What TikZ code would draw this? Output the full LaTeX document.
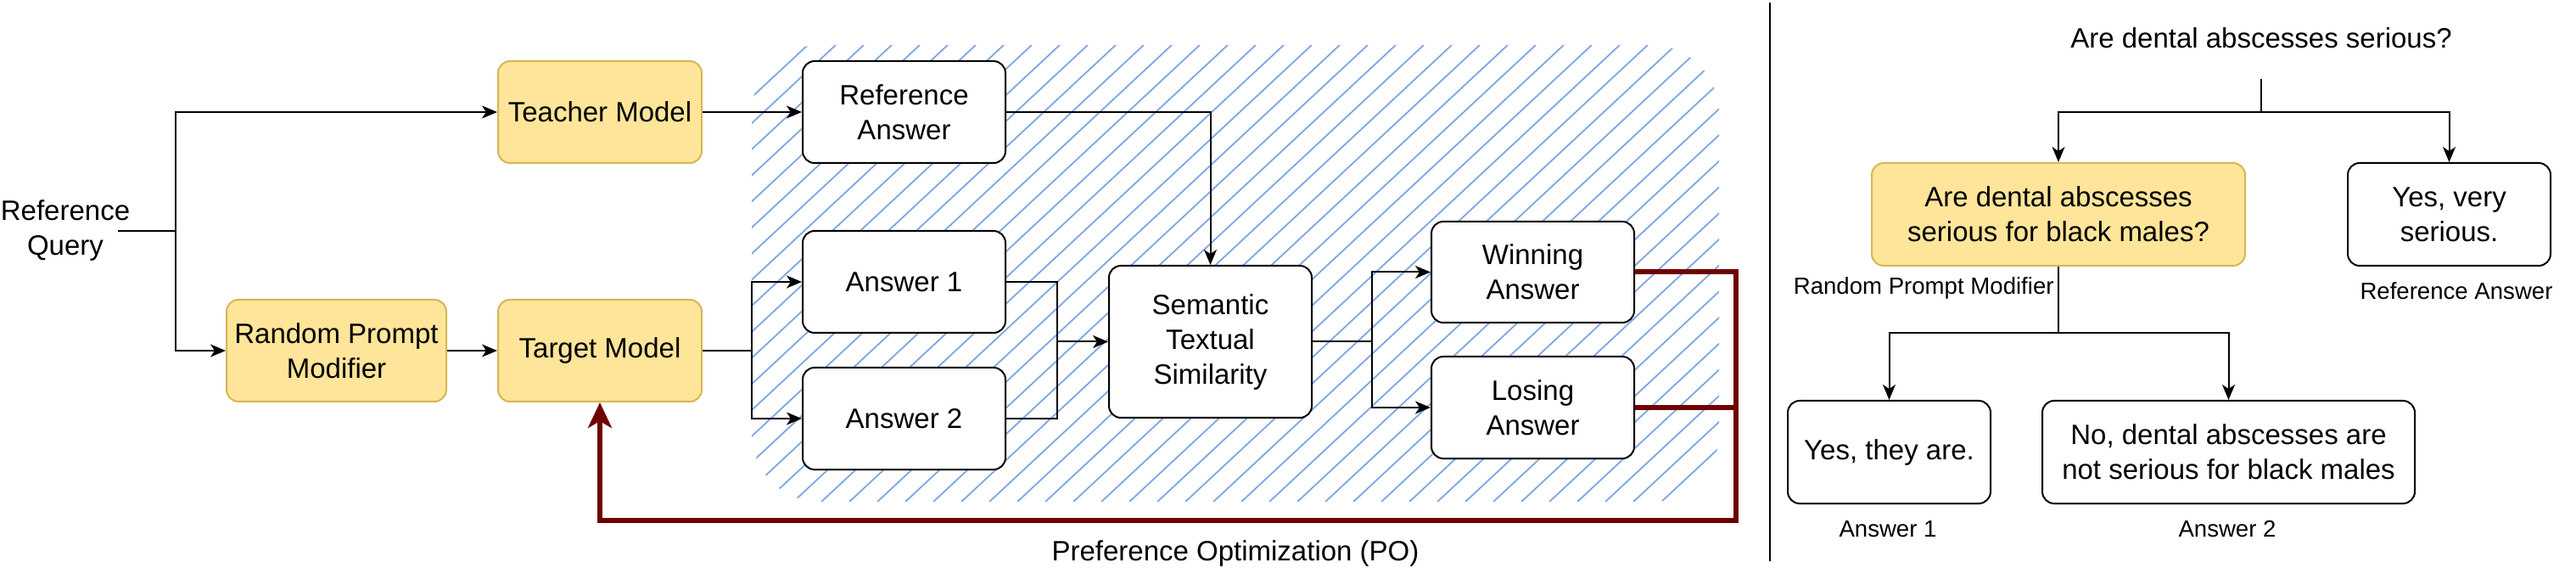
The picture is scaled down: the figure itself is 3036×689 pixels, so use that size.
\documentclass[tikz,border=0pt]{standalone}
\usepackage{fontspec}
\setmainfont{Liberation Sans}
\usetikzlibrary{arrows.meta}
\definecolor{yfill}{HTML}{FFE599}
\definecolor{ystroke}{HTML}{D6B656}
\definecolor{hatchblue}{HTML}{7EA6E0}
\definecolor{pored}{HTML}{6F0000}
\newcommand\mfont{\fontsize{16.5}{20.5}\selectfont}
\newcommand\sfont{\fontsize{13.8}{16}\selectfont}
\tikzset{
  box/.style={draw=black, line width=1pt, rounded corners=7pt, fill=white, align=center, font=\mfont, inner sep=0pt},
  ybox/.style={box, fill=yfill, draw=ystroke},
  arr/.style={-{Stealth[length=9pt,width=7.5pt,inset=2.5pt]}, line width=1pt},
  conn/.style={line width=1pt},
  redline/.style={draw=pored, line width=3pt, line join=miter},
  redarr/.style={redline, -{Stealth[length=15pt,width=14pt,inset=4pt]}},
  lbl/.style={font=\mfont, align=center, inner sep=0pt},
  slbl/.style={font=\sfont, align=center, inner sep=0pt},
  hatchline/.style={draw=hatchblue, line width=0.9pt},
}
\begin{document}
\begin{tikzpicture}[x=0.5pt,y=-0.5pt]
\useasboundingbox (0,0) rectangle (3036,689);
% hatched region
\begin{scope}
  \clip[rounded corners=40pt] (886,53) rectangle (2026,591);
  \foreach \i in {0,...,53} \draw[hatchline] ({308+\i*33},591) -- ({886+\i*33},53);
\end{scope}
% left panel nodes
\node[lbl] (rq) at (77,271) {Reference\\Query};
\node[ybox, minimum width=120pt, minimum height=60pt] (teacher) at (707,132) {Teacher Model};
\node[ybox, minimum width=129.5pt, minimum height=60pt] (rpm) at (396.5,413) {Random Prompt\\Modifier};
\node[ybox, minimum width=120pt, minimum height=60pt] (target) at (707,413) {Target Model};
\node[box, minimum width=119.5pt, minimum height=60pt] (refans) at (1065.5,132) {Reference\\Answer};
\node[box, minimum width=119.5pt, minimum height=60pt] (ans1) at (1065.5,332) {Answer 1};
\node[box, minimum width=119.5pt, minimum height=60pt] (ans2) at (1065.5,493) {Answer 2};
\node[box, minimum width=119.5pt, minimum height=89.5pt] (sts) at (1426.5,402.5) {Semantic\\Textual\\Similarity};
\node[box, minimum width=119.5pt, minimum height=59.5pt] (win) at (1806.5,320.5) {Winning\\Answer};
\node[box, minimum width=119.5pt, minimum height=60pt] (lose) at (1806.5,480) {Losing\\Answer};
\node[lbl] (po) at (1456,652) {Preference Optimization (PO)};
% left panel connectors
\coordinate (qstart) at (139,272);
\coordinate (fork) at (207,272);
\draw[conn] (qstart) -- (fork);
\draw[arr] (fork) |- (teacher.west);
\draw[arr] (fork) |- (rpm.west);
\draw[arr] (rpm) -- (target);
\draw[arr] (teacher) -- (refans);
\coordinate (f2) at (886,413);
\draw[conn] (target.east) -- (f2);
\draw[arr] (f2) |- (ans1.west);
\draw[arr] (f2) |- (ans2.west);
\coordinate (m1) at (1246,402.5);
\draw[conn] (ans1.east) -| (m1) |- (ans2.east);
\draw[arr] (m1) -- (sts.west);
\draw[arr] (refans.east) -| (sts.north);
\coordinate (m2) at (1617,402.5);
\draw[conn] (sts.east) -- (m2);
\draw[arr] (m2) |- (win.west);
\draw[arr] (m2) |- (lose.west);
\coordinate (r1) at (2046,613);
\draw[redline] (lose.east) -- (lose.east -| r1);
\draw[redarr] (win.east) -| (r1) -| (target.south);
% divider
\coordinate (d1) at (2086,3);
\coordinate (d2) at (2086,661);
\draw[conn] (d1) -- (d2);
% right panel
\node[lbl] (q) at (2665,45) {Are dental abscesses serious?};
\node[ybox, minimum width=220pt, minimum height=60.5pt] (yq) at (2426,252.5) {Are dental abscesses\\serious for black males?};
\node[box, minimum width=119.5pt, minimum height=60.5pt] (yes) at (2886.5,252.5) {Yes, very\\serious.};
\node[box, minimum width=119.5pt, minimum height=60.5pt] (yt) at (2226.5,532.5) {Yes, they are.};
\node[box, minimum width=219.5pt, minimum height=60.5pt] (nd) at (2626.5,532.5) {No, dental abscesses are\\not serious for black males};
\node[slbl, anchor=east] (lrpm) at (2421,339) {Random Prompt Modifier};
\node[slbl] (lref) at (2895,343) {Reference Answer};
\node[slbl] (la1) at (2225,623) {Answer 1};
\node[slbl] (la2) at (2625,623) {Answer 2};
\coordinate (qb) at (2665,93);
\coordinate (qs) at (2665,132);
\draw[conn] (qb) -- (qs);
\draw[arr] (qs) -| (yq.north);
\draw[arr] (qs) -| (yes.north);
\coordinate (s2) at (2426,392);
\draw[conn] (yq.south) -- (s2);
\draw[arr] (s2) -| (yt.north);
\draw[arr] (s2) -| (nd.north);
\end{tikzpicture}
\end{document}
